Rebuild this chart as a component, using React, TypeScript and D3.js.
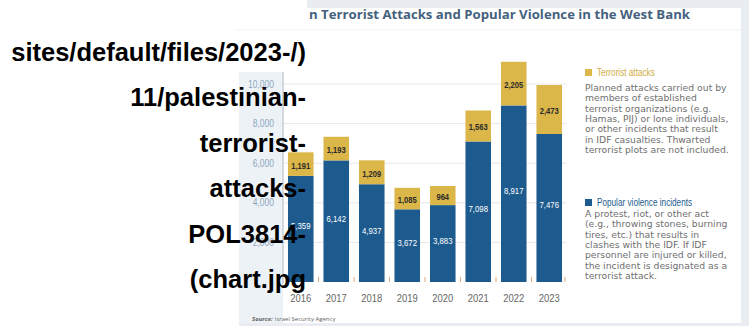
import React from 'react';
import * as d3 from 'd3';

const years = ['2016', '2017', '2018', '2019', '2020', '2021', '2022', '2023'];
const popularViolence = [5359, 6142, 4937, 3672, 3883, 7098, 8917, 7476];
const terroristAttacks = [1191, 1193, 1209, 1085, 964, 1563, 2205, 2473];
const yTicks = [2000, 4000, 6000, 8000, 10000];

const titleText = 'n Terrorist Attacks and Popular Violence in the West Bank';
const altLines = [
  'sites/default/files/2023-/)',
  '11/palestinian-',
  'terrorist-',
  'attacks-',
  'POL3814-',
  '(chart.jpg',
];
const terrorTitle = 'Terrorist attacks';
const terrorText = [
  'Planned attacks carried out by',
  'members of established',
  'terrorist organizations (e.g.',
  'Hamas, PIJ) or lone individuals,',
  'or other incidents that result',
  'in IDF casualties. Thwarted',
  'terrorist plots are not included.',
];
const popTitle = 'Popular violence incidents';
const popText = [
  'A protest, riot, or other act',
  '(e.g., throwing stones, burning',
  'tires, etc.) that results in',
  'clashes with the IDF. If IDF',
  'personnel are injured or killed,',
  'the incident is designated as a',
  'terrorist attack.',
];
const sourceLabel = 'Source:';
const sourceText = 'Israel Security Agency';

const BLUE = '#1d5b8f';
const GOLD = '#dbb649';
const SANS = "'Liberation Sans', Arial, sans-serif";

function SText(props: any) {
  const { x, y, sx = 1, children, ...rest } = props;
  return (
    <text transform={`translate(${x},${y}) scale(${sx},1)`} {...rest}>{children}</text>
  );
}

export default function App() {
  const W = 749;
  const H = 326;
  const x = d3.scaleBand<string>().domain(years).range([283, 567]).paddingInner(0.28).paddingOuter(0.14);
  const y = d3.scaleLinear().domain([0, 10000]).range([282, 84]);

  const table = years.map((yr, i) => ({ year: yr, popular: popularViolence[i], terrorist: terroristAttacks[i] }));
  const stacked = d3.stack<any>().keys(['popular', 'terrorist'])(table);
  const fmt = d3.format(',');
  const cx = (yr: string) => (x(yr) as number) + x.bandwidth() / 2;
  const gap = x.step() - x.bandwidth();

  return (
    <svg width={W} height={H} style={{ position: 'absolute', left: 0, top: 0 }}>
      <rect x={0} y={0} width={W} height={H} fill="#ffffff" />
      {/* frame of the picture */}
      <rect x={307} y={0} width={442} height={8} fill="#e9edf1" />
      <rect x={741} y={0} width={8} height={H} fill="#e9edf1" />
      <rect x={239} y={323} width={510} height={3} fill="#e9edf1" />
      <rect x={239} y={72} width={44} height={251} fill="#edf2f7" />
      <line x1={236} x2={741} y1={30} y2={30} stroke="#f1f3f5" />

      {/* title */}
      <text x={309} y={19} fontFamily="'Open Sans', sans-serif" fontWeight={700} fontSize={11.5}
        fill="#44617e" textLength={381} lengthAdjust="spacingAndGlyphs">{titleText}</text>

      {/* grid */}
      {yTicks.map((t) => (
        <line key={t} x1={283} x2={567} y1={y(t)} y2={y(t)} stroke="#e8e8e8" strokeWidth={1} />
      ))}
      <line x1={283} x2={283} y1={72} y2={284} stroke="#c8ced6" strokeWidth={1.5} />
      {yTicks.map((t) => (
        <SText key={t} x={274} y={y(t) + 3.5} sx={0.85} textAnchor="end" fontFamily={SANS}
          fontSize={10} fill="#8ea7bf">{fmt(t)}</SText>
      ))}

      {/* bars */}
      {stacked.map((layer, li) => (
        <g key={layer.key} fill={li === 0 ? BLUE : GOLD}>
          {layer.map((d: any, i: number) => (
            <rect key={i} x={x(years[i])} width={x.bandwidth()} y={y(d[1])} height={y(d[0]) - y(d[1])} />
          ))}
        </g>
      ))}
      {/* x ticks */}
      {years.slice(1).map((yr) => (
        <line key={yr} x1={(x(yr) as number) - gap / 2} x2={(x(yr) as number) - gap / 2} y1={277} y2={282}
          stroke="#d9ad7c" strokeWidth={1} />
      ))}
      <line x1={565} x2={565} y1={277} y2={282} stroke="#d9ad7c" />

      {/* value labels */}
      {stacked[0].map((d: any, i: number) => (
        <SText key={'p' + i} x={cx(years[i])} y={(y(d[0]) + y(d[1])) / 2 + 0.5} sx={0.82}
          textAnchor="middle" fontFamily={SANS} fontSize={9.5} fill="#ffffff">{fmt(popularViolence[i])}</SText>
      ))}
      {stacked[1].map((d: any, i: number) => (
        <SText key={'t' + i} x={cx(years[i])} y={(y(d[0]) + y(d[1])) / 2 + 4.5} sx={0.8}
          textAnchor="middle" fontFamily={SANS} fontWeight={700} fontSize={9.5}
          fill="#2b2b2b">{fmt(terroristAttacks[i])}</SText>
      ))}
      {years.map((yr) => (
        <SText key={yr} x={cx(yr)} y={302} sx={0.82} textAnchor="middle"
          fontFamily={SANS} fontSize={11.5} fill="#666">{yr}</SText>
      ))}

      {/* source */}
      <text x={252} y={321} fontFamily="'Open Sans', sans-serif" fontSize={6} fill="#666">
        <tspan fontWeight={700} fontStyle="italic">{sourceLabel}</tspan>
        <tspan dx={2}>{sourceText}</tspan>
      </text>

      {/* legend */}
      <rect x={585} y={69} width={7} height={7} fill={GOLD} />
      <SText x={597} y={76} sx={0.82} fontFamily={SANS} fontSize={10} fill="#d0ad42">{terrorTitle}</SText>
      {terrorText.map((l, i) => (
        <SText key={l} x={585} y={91 + i * 10.3} sx={1.13} fontFamily="'DejaVu Sans', sans-serif"
          fontSize={8.2} fill="#6f6f6f">{l}</SText>
      ))}
      <rect x={585} y={199} width={7} height={7} fill={BLUE} />
      <SText x={597} y={206} sx={0.82} fontFamily={SANS} fontSize={10} fill={BLUE}>{popTitle}</SText>
      {popText.map((l, i) => (
        <SText key={l} x={585} y={217 + i * 10.3} sx={1.13} fontFamily="'DejaVu Sans', sans-serif"
          fontSize={8.2} fill="#6f6f6f">{l}</SText>
      ))}

      {/* alt text overlay */}
      {altLines.map((l, i) => (
        <text key={l} x={306} y={61 + i * 45.4} textAnchor="end" fontFamily="'Liberation Sans', Arial, sans-serif"
          fontWeight={700} fontSize={25.5} fill="#000">{l}</text>
      ))}
    </svg>
  );
}
